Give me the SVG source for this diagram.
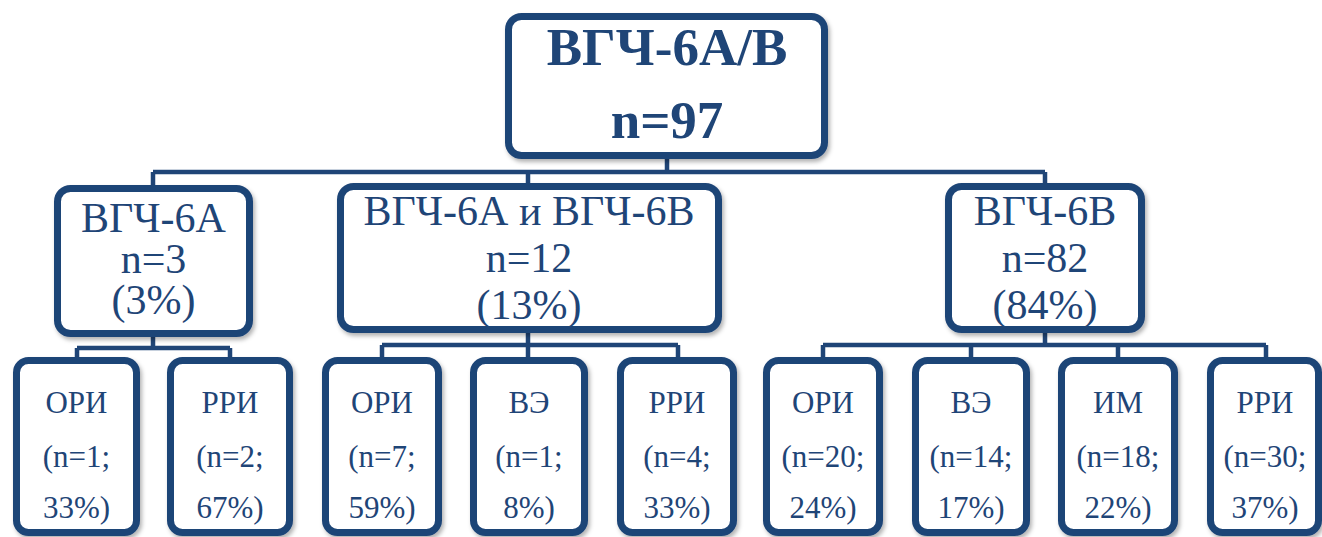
<svg xmlns="http://www.w3.org/2000/svg" width="1322" height="537" viewBox="0 0 1322 537">
<defs>
<filter id="sh" x="-10%" y="-10%" width="125%" height="125%">
<feDropShadow dx="2" dy="3" stdDeviation="2.2" flood-color="#000" flood-opacity="0.3"/>
</filter>
<style>
.box{fill:#fff;stroke:#1F4577;stroke-width:7;filter:url(#sh)}
.con{fill:none;stroke:#1F4577;stroke-width:4.5;stroke-linejoin:miter}
.t{font-family:"Liberation Serif","Times New Roman",serif;fill:#1F4577;text-anchor:middle}
.top{font-size:53px;font-weight:bold}
.mid{font-size:42px}
.leaf{font-size:31px}
</style>
</defs>
<rect width="1322" height="537" fill="#fff"/>
<g id="connectors">
<path class="con" d="M667 158V172M153 172H1045M153 172V186M528 172V184M1045 172V184"/>
<path class="con" d="M153 336V348M77 348H230M77 348V358M230 348V358"/>
<path class="con" d="M528 332V345M382 345H678M382 345V358M528 345V358M678 345V358"/>
<path class="con" d="M1045 332V345M823 345H1266M823 345V358M971 345V358M1118 345V358M1266 345V358"/>
</g>
<g id="root">
<rect class="box" x="508.5" y="16.5" width="316" height="139" rx="13"/>
<text class="t top" x="667" y="65">ВГЧ-6А/В</text>
<text class="t top" x="667" y="138">n=97</text>
</g>
<g id="a">
<rect class="box" x="57.5" y="188.5" width="192" height="145" rx="13"/>
<text class="t mid" x="153.5" y="232">ВГЧ-6А</text>
<text class="t mid" x="153.5" y="273">n=3</text>
<text class="t mid" x="153.5" y="314">(3%)</text>
</g>
<g id="ab">
<rect class="box" x="340.5" y="186.5" width="378" height="143" rx="13"/>
<text class="t mid" x="529" y="225">ВГЧ-6А и ВГЧ-6В</text>
<text class="t mid" x="529" y="272">n=12</text>
<text class="t mid" x="529" y="319">(13%)</text>
</g>
<g id="b">
<rect class="box" x="948.5" y="186.5" width="193" height="143" rx="13"/>
<text class="t mid" x="1045" y="225">ВГЧ-6В</text>
<text class="t mid" x="1045" y="272">n=82</text>
<text class="t mid" x="1045" y="319">(84%)</text>
</g>
<g id="leaf1">
<rect class="box" x="16.5" y="360.5" width="120" height="172" rx="12"/>
<text class="t leaf" x="76.5" y="413">ОРИ</text>
<text class="t leaf" x="76.5" y="467">(n=1;</text>
<text class="t leaf" x="76.5" y="518">33%)</text>
</g>
<g id="leaf2">
<rect class="box" x="170.5" y="360.5" width="119" height="172" rx="12"/>
<text class="t leaf" x="230" y="413">РРИ</text>
<text class="t leaf" x="230" y="467">(n=2;</text>
<text class="t leaf" x="230" y="518">67%)</text>
</g>
<g id="leaf3">
<rect class="box" x="325.5" y="360.5" width="113" height="172" rx="12"/>
<text class="t leaf" x="382" y="413">ОРИ</text>
<text class="t leaf" x="382" y="467">(n=7;</text>
<text class="t leaf" x="382" y="518">59%)</text>
</g>
<g id="leaf4">
<rect class="box" x="473.5" y="360.5" width="111" height="172" rx="12"/>
<text class="t leaf" x="529" y="413">ВЭ</text>
<text class="t leaf" x="529" y="467">(n=1;</text>
<text class="t leaf" x="529" y="518">8%)</text>
</g>
<g id="leaf5">
<rect class="box" x="620.5" y="360.5" width="113" height="172" rx="12"/>
<text class="t leaf" x="677" y="413">РРИ</text>
<text class="t leaf" x="677" y="467">(n=4;</text>
<text class="t leaf" x="677" y="518">33%)</text>
</g>
<g id="leaf6">
<rect class="box" x="766.5" y="360.5" width="113" height="172" rx="12"/>
<text class="t leaf" x="823" y="413">ОРИ</text>
<text class="t leaf" x="823" y="467">(n=20;</text>
<text class="t leaf" x="823" y="518">24%)</text>
</g>
<g id="leaf7">
<rect class="box" x="915.5" y="360.5" width="111" height="172" rx="12"/>
<text class="t leaf" x="971" y="413">ВЭ</text>
<text class="t leaf" x="971" y="467">(n=14;</text>
<text class="t leaf" x="971" y="518">17%)</text>
</g>
<g id="leaf8">
<rect class="box" x="1061.5" y="360.5" width="113" height="172" rx="12"/>
<text class="t leaf" x="1118" y="413">ИМ</text>
<text class="t leaf" x="1118" y="467">(n=18;</text>
<text class="t leaf" x="1118" y="518">22%)</text>
</g>
<g id="leaf9">
<rect class="box" x="1210.5" y="360.5" width="108" height="172" rx="12"/>
<text class="t leaf" x="1265" y="413">РРИ</text>
<text class="t leaf" x="1265" y="467">(n=30;</text>
<text class="t leaf" x="1265" y="518">37%)</text>
</g>
</svg>
